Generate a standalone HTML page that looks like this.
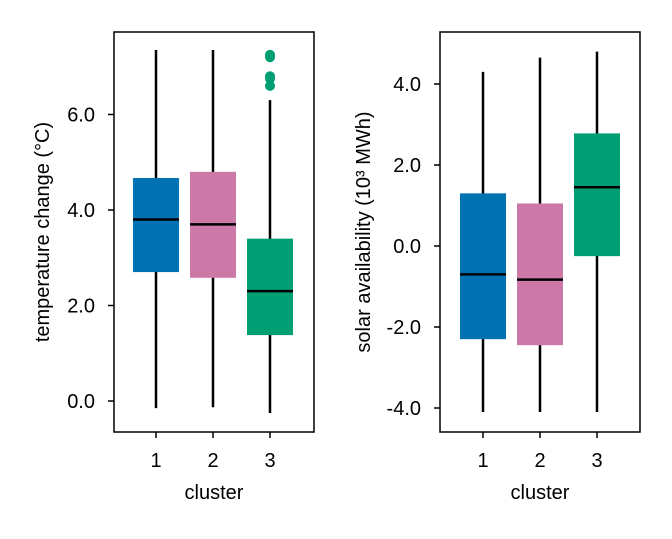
<!DOCTYPE html>
<html><head><meta charset="utf-8"><style>
body{margin:0;background:#fff;}
svg text{font-family:"Liberation Sans",sans-serif;font-size:20px;fill:#000;}
</style></head><body>
<svg id="chart" width="672" height="534"></svg>
<script>
const categories=["1","2","3"];
const tempQ1=[2.7,2.58,1.38];
const tempMedian=[3.8,3.7,2.3];
const tempQ3=[4.67,4.8,3.4];
const tempLow=[-0.15,-0.13,-0.25];
const tempHigh=[7.35,7.35,6.3];
const tempOutliers=[[],[],[7.2,7.25,6.8,6.75,6.6]];
const tempTicks=[0,2,4,6];
const solarQ1=[-2.3,-2.45,-0.25];
const solarMedian=[-0.7,-0.83,1.45];
const solarQ3=[1.3,1.05,2.78];
const solarLow=[-4.1,-4.1,-4.1];
const solarHigh=[4.3,4.65,4.8];
const solarOutliers=[[],[],[]];
const solarTicks=[-4,-2,0,2,4];
const colors=["#0072B2","#CC79A7","#009E73"];
const NS="http://www.w3.org/2000/svg";
const svg=document.getElementById("chart");
function mk(tag,attrs,parent){const e=document.createElementNS(NS,tag);for(const k in attrs)e.setAttribute(k,attrs[k]);(parent||svg).appendChild(e);return e;}
function panel(o){
  const g=mk("g",{});
  
  
  const y=v=>o.y0+(v-o.v0)*o.ppu*-1;
  const x=i=>o.cx0+i*57;
  for(let i=0;i<categories.length;i++){
    const w=mk("line",{x1:x(i),x2:x(i),y1:y(o.low[i]),y2:y(o.high[i]),stroke:"#000","stroke-width":2.5},g);
    
    
    const b=mk("rect",{x:x(i)-23,width:46,y:y(o.q3[i]),height:y(o.q1[i])-y(o.q3[i]),fill:colors[i]},g);
    
    
    const m=mk("line",{x1:x(i)-23,x2:x(i)+23,y1:y(o.med[i]),y2:y(o.med[i]),stroke:"#000","stroke-width":2.5},g);
    
    
    o.out[i].forEach(v=>{const c=mk("circle",{cx:x(i),cy:y(v),r:5,fill:colors[i]},g);
      
      });
    mk("line",{x1:x(i),x2:x(i),y1:o.bot,y2:o.bot+6,stroke:"#000","stroke-width":1.5},g);
    const t=mk("text",{x:x(i),y:o.bot+35,"text-anchor":"middle"},g);t.textContent=categories[i];
    
    
  }
  o.ticks.forEach(v=>{
    mk("line",{x1:o.left-6,x2:o.left,y1:y(v),y2:y(v),stroke:"#000","stroke-width":1.5},g);
    const t=mk("text",{x:o.left-19,y:y(v)+7,"text-anchor":"end"},g);t.textContent=v.toFixed(1);
    
    
  });
  const f=mk("rect",{x:o.left,y:32,width:200,height:o.bot-32,fill:"none",stroke:"#000","stroke-width":1.5},g);
  
  
  const xl=mk("text",{x:o.left+100,y:499,"text-anchor":"middle"},g);xl.textContent="cluster";
  
  
  const yl=mk("text",{x:0,y:0,"text-anchor":"middle",transform:`translate(${o.ylx},232) rotate(-90)`},g);yl.innerHTML=o.ylabel;
  
  
}
panel({name:"temperature-panel",left:114,bot:432,y0:401,v0:0,ppu:47.75,cx0:156,q1:tempQ1,med:tempMedian,q3:tempQ3,low:tempLow,high:tempHigh,out:tempOutliers,ticks:tempTicks,ylx:49,ylabel:"temperature change (°C)"});
panel({name:"solar-panel",left:440,bot:432,y0:246,v0:0,ppu:40.5,cx0:483,q1:solarQ1,med:solarMedian,q3:solarQ3,low:solarLow,high:solarHigh,out:solarOutliers,ticks:solarTicks,ylx:370,ylabel:"solar availability (10³ MWh)"});
</script>
</body></html>
